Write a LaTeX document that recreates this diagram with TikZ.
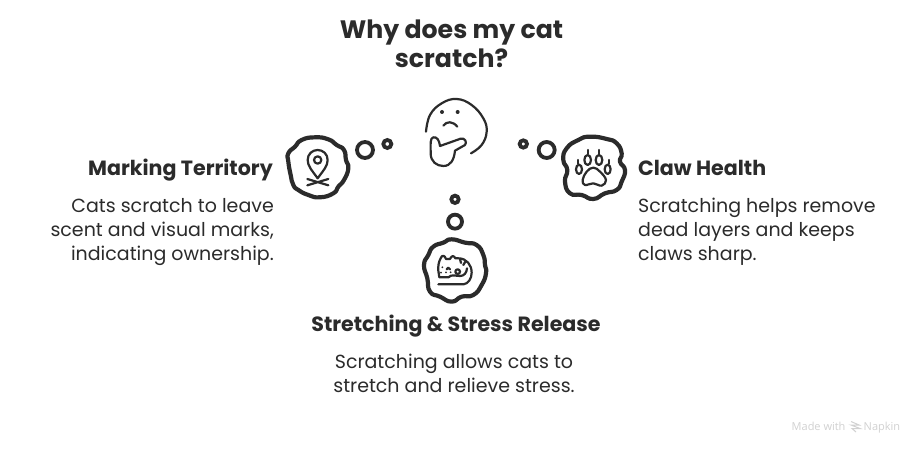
\documentclass[tikz,border=0pt]{standalone}
\usepackage{fontspec}
\setmainfont{Poppins}
\newfontfamily\markfont{Open Sans}
\definecolor{ink}{HTML}{2B2B2B}
\tikzset{
  titletext/.style={font=\fontsize{25.2}{29}\selectfont\bfseries,text=ink,align=center,inner sep=0pt},
  headtext/.style={font=\fontsize{20.6}{24}\selectfont\bfseries,text=ink,inner sep=0pt},
  bodytext/.style={font=\fontsize{19}{24}\selectfont,text=ink,inner sep=0pt},
  marktext/.style={font=\fontsize{11}{13}\selectfont\markfont,text=black!18,inner sep=0pt},
  blob/.style={draw=ink,line width=4.2pt,line join=round},
  bubble/.style={draw=ink,line width=3.8pt},
  icon/.style={draw=ink,line width=2.2pt,line cap=round,line join=round},
  zoomed/.style={x=0.3333pt,y=-0.3333pt}
}
\begin{document}
\begin{tikzpicture}[x=1pt,y=-1pt]
\useasboundingbox (0,0) rectangle (924,454);
\fill[white] (0,0) rectangle (924,454);
\node[titletext] (title) at (451.5,44) {Why does my cat\\scratch?};
% left
\node[headtext,anchor=base east] (h1) at (273,176) {Marking Territory};
\node[bodytext,anchor=north east,align=right] (b1) at (274,198.5) {Cats scratch to leave\\scent and visual marks,\\indicating ownership.};
% right
\node[headtext,anchor=base west] (h2) at (638,176) {Claw Health};
\node[bodytext,anchor=north west,align=left] (b2) at (638,198) {Scratching helps remove\\dead layers and keeps\\claws sharp.};
% bottom
\node[headtext,anchor=base] (h3) at (456,332) {Stretching \& Stress Release};
\node[bodytext,anchor=north,align=center] (b3) at (454,354) {Scratching allows cats to\\stretch and relieve stress.};
\node[marktext,anchor=base west] (mark1) at (791.5,430) {Made with};
\node[marktext,anchor=base west] (mark2) at (863.5,430) {Napkin};
\draw[black!18,line width=1pt] (851,421.5) -- (859,425) -- (851,425) -- (860,428.5) -- (852,428.5) -- (856,432);
% left bubble
\begin{scope}[shift={(270,80)},zoomed]
\draw[blob] plot[smooth cycle,tension=0.9] coordinates {(135,172)(175,178)(200,195)(222,210)(228,240)(235,265)(222,300)(205,320)(190,340)(150,352)(115,345)(85,330)(70,315)(62,285)(55,245)(55,220)(75,200)(95,180)};
\draw[bubble] (285,210) circle (24);
\draw[bubble] (352,192) circle (12);
\draw[icon] (143,295) .. controls (125,270) and (113,258) .. (113,240) .. controls (113,222) and (127,210) .. (143,210) .. controls (159,210) and (173,222) .. (173,240) .. controls (173,258) and (161,270) .. (143,295) -- cycle;
\draw[icon] (143,240) circle (11);
\draw[icon] (112,297) -- (175,316) (175,297) -- (112,316);
\end{scope}
% face
\begin{scope}[shift={(410,85)},zoomed]
\draw[icon] plot[smooth,tension=0.7] coordinates {(48,140)(60,90)(95,55)(140,42)(185,60)(220,100)(230,140)(215,180)(183,205)};
\fill[ink] (96,81) circle (6) (143,81) circle (6);
\draw[icon] (100,122) .. controls (110,108) and (128,108) .. (142,125);
\draw[icon] (90,183) .. controls (88,165) and (80,155) .. (70,157) .. controls (60,160) and (62,175) .. (62,205) .. controls (62,230) and (80,243) .. (100,243) .. controls (122,243) and (132,225) .. (135,197) -- (165,180) .. controls (172,172) and (165,158) .. (152,161) -- cycle;
\end{scope}
% right bubble
\begin{scope}[shift={(510,125)},zoomed]
\draw[blob] plot[smooth cycle,tension=0.9] coordinates {(205,45)(240,35)(290,42)(320,55)(335,85)(330,110)(345,135)(335,170)(320,195)(285,205)(250,222)(215,210)(180,205)(165,170)(172,135)(160,105)(170,70)};
\draw[bubble] (110,75) circle (24);
\draw[bubble] (40,57) circle (11);
\draw[icon] (233,105) ellipse (10 and 15) (267,105) ellipse (10 and 15) (207,133) ellipse (9 and 14) (293,133) ellipse (9 and 14);
\draw[icon] (233,75) -- (233,86) (267,75) -- (267,86) (205,105) -- (205,116) (297,105) -- (297,116);
\draw[icon] plot[smooth cycle,tension=0.7] coordinates {(250,128)(230,140)(218,165)(225,180)(250,175)(275,182)(288,165)(270,140)};
\end{scope}
% bottom bubble
\begin{scope}[shift={(410,190)},zoomed]
\draw[blob] plot[smooth cycle,tension=0.9] coordinates {(70,170)(100,158)(125,148)(165,158)(200,165)(220,195)(225,225)(228,250)(215,285)(190,315)(155,320)(125,335)(90,320)(60,305)(52,265)(42,225)(55,195)};
\draw[bubble] (135,95) circle (21);
\draw[bubble] (135,28) circle (11);
% cat
\draw[icon] (85,283) -- (160,283) .. controls (175,282) and (185,265) .. (185,248) .. controls (185,225) and (170,205) .. (145,205) -- (136,205) .. controls (132,196) and (125,196) .. (120,207) -- (108,207) .. controls (104,195) and (96,194) .. (92,205) .. controls (86,215) and (84,228) .. (85,242) -- (88,262) -- (115,262) .. controls (125,252) and (138,258) .. (150,258) .. controls (163,258) and (170,248) .. (171,235);
\draw[icon] (143,245) circle (7);
\fill[ink] (97,232) circle (3) (93,248) circle (3) (108,247) circle (3) (122,247) circle (3);
\draw[icon] (110,238) -- (115,233) -- (120,238);
\draw[icon] (150,207) -- (153,219) (166,215) -- (160,225);
\end{scope}
\end{tikzpicture}
\end{document}
